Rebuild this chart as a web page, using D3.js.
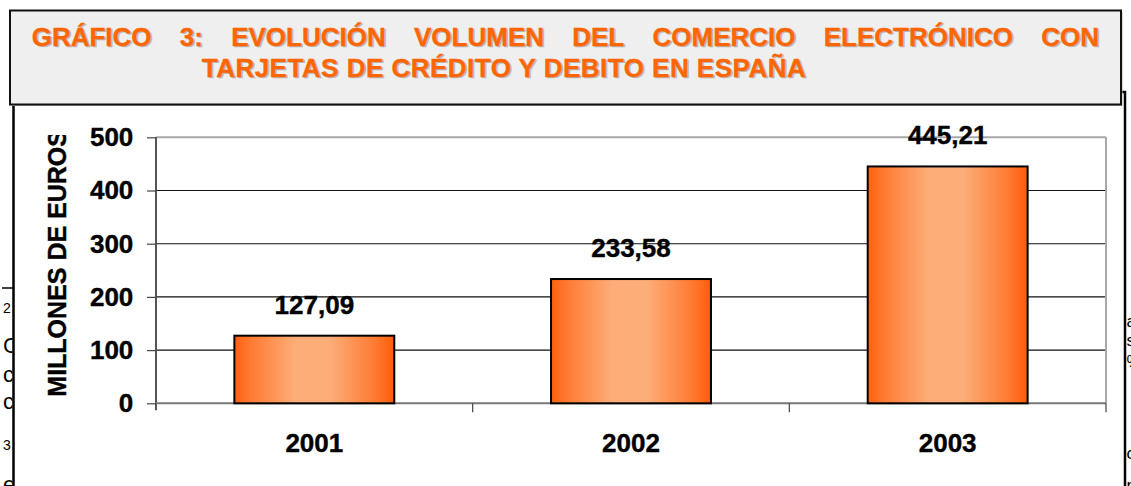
<!DOCTYPE html>
<html>
<head>
<meta charset="utf-8">
<script src="https://cdn.jsdelivr.net/npm/d3@7"></script>
<style>
  html, body { margin: 0; padding: 0; background: #fff; }
  svg { display: block; }
  text { font-family: "Liberation Sans", Arial, sans-serif; }
</style>
</head>
<body>
<svg id="chart" width="1131" height="486"></svg>
<script>
// ---- data ----
const years = ["2001", "2002", "2003"];
const volumes = [127.09, 233.58, 445.21];
const valueLabels = ["127,09", "233,58", "445,21"];
const yTicks = [0, 100, 200, 300, 400, 500];
const yTitle = "MILLONES DE EUROS";
const titleLine1 = ["GRÁFICO", "3:", "EVOLUCIÓN", "VOLUMEN", "DEL", "COMERCIO", "ELECTRÓNICO", "CON"];
const titleLine2 = "TARJETAS DE CRÉDITO Y DEBITO EN ESPAÑA";
// fragments of the underlying document page visible at the edges
const leftFragments = [
  {t: "2", s: 14, y: 313}, {t: "C", s: 22, y: 353}, {t: "c", s: 22, y: 382},
  {t: "c", s: 22, y: 409}, {t: "3", s: 14, y: 450}, {t: "e", s: 22, y: 492}
];
const rightFragments = [
  {t: "a", s: 17, y: 327}, {t: "s", s: 17, y: 346}, {t: "%", s: 17, y: 367},
  {t: "c", s: 17, y: 459}, {t: "r", s: 17, y: 491}
];

const svg = d3.select("#chart");
const defs = svg.append("defs");
const FONT = '"Liberation Sans", Arial, sans-serif';

// gradient for bars
const grad = defs.append("linearGradient").attr("id", "barGrad")
  .attr("x1", "0%").attr("x2", "100%").attr("y1", "0%").attr("y2", "0%");
[[0, "#ff6010"], [0.1, "#ff7a32"], [0.38, "#fcad78"], [0.6, "#fcad78"], [0.88, "#ff7a32"], [1, "#ff5c08"]]
  .forEach(([o, c]) => grad.append("stop").attr("offset", o).attr("stop-color", c));

defs.append("clipPath").attr("id", "clipLeft").append("rect")
  .attr("x", 0).attr("y", 0).attr("width", 12.5).attr("height", 486);
defs.append("clipPath").attr("id", "clipYTitle").append("rect")
  .attr("x", 0).attr("y", 135).attr("width", 120).attr("height", 351);

// ---- background document fragments ----
const leftG = svg.append("g").attr("clip-path", "url(#clipLeft)");
leftG.selectAll("text").data(leftFragments).join("text")
  .attr("x", 3).attr("y", d => d.y).attr("font-size", d => d.s)
  .attr("fill", "#000").text(d => d.t);
svg.append("line").attr("x1", 2).attr("x2", 13).attr("y1", 288).attr("y2", 288)
  .attr("stroke", "#000").attr("stroke-width", 1.5);
svg.selectAll("text.rf").data(rightFragments).join("text").attr("class", "rf")
  .attr("x", 1126.5).attr("y", d => d.y).attr("font-size", d => d.s)
  .attr("fill", "#000").text(d => d.t);

// ---- chart area ----
svg.append("rect").attr("x", 13.5).attr("y", 92).attr("width", 1111.5).attr("height", 420)
  .attr("fill", "#fff").attr("stroke", "#000").attr("stroke-width", 2.5);

// ---- scales ----
const plotL = 156, plotR = 1106, plotT = 137.3, plotB = 403.3;
const y = d3.scaleLinear().domain([0, 500]).range([plotB, plotT]);
const x = d3.scaleBand().domain(years).range([plotL, plotR])
  .paddingInner(0.495).paddingOuter(0.2475);
const step = x.step();

// gridlines
svg.append("g").selectAll("line").data(yTicks.filter(d => d > 0 && d < 500)).join("line")
  .attr("x1", plotL).attr("x2", plotR).attr("y1", d => y(d)).attr("y2", d => y(d))
  .attr("stroke", "#111").attr("stroke-width", 1.1);
// plot area top/right border (gray)
svg.append("line").attr("x1", plotL).attr("x2", plotR).attr("y1", y(500)).attr("y2", y(500))
  .attr("stroke", "#a8a8a8").attr("stroke-width", 2);
svg.append("line").attr("x1", plotR).attr("x2", plotR).attr("y1", y(500)).attr("y2", plotB)
  .attr("stroke", "#a8a8a8").attr("stroke-width", 2);

// y axis
const yAxis = svg.append("g").attr("transform", `translate(${plotL},0)`)
  .call(d3.axisLeft(y).tickValues(yTicks).tickSize(9).tickPadding(13.7).tickFormat(d3.format("d")));
yAxis.select(".domain").attr("stroke", "#555").attr("stroke-width", 2)
  .attr("d", `M0,${plotT}V${plotB + 7}`);
yAxis.selectAll(".tick line").attr("stroke", "#444").attr("stroke-width", 1.2);
yAxis.selectAll(".tick text").attr("font-size", 26).attr("font-weight", "bold")
  .attr("font-family", FONT).attr("fill", "#000").attr("stroke", "#000").attr("stroke-width", 0.4);

// x axis
const xAxis = svg.append("g").attr("transform", `translate(0,${plotB})`)
  .call(d3.axisBottom(x).tickSize(0).tickPadding(30));
xAxis.select(".domain").attr("stroke", "#777").attr("stroke-width", 2)
  .attr("d", `M${plotL},0H${plotR}`);
xAxis.selectAll(".tick text").attr("font-size", 26).attr("font-weight", "bold")
  .attr("font-family", FONT).attr("fill", "#000").attr("stroke", "#000").attr("stroke-width", 0.4);
// category boundary ticks
const bounds = years.map(d => x(d) - step * 0.2475).concat([plotR]);
xAxis.append("g").selectAll("line").data(bounds.slice(1)).join("line")
  .attr("x1", d => d).attr("x2", d => d).attr("y1", 0).attr("y2", 9)
  .attr("stroke", "#444").attr("stroke-width", 1.2);

// bars
const data = years.map((yr, i) => ({yr, v: volumes[i], lab: valueLabels[i]}));
svg.append("g").selectAll("rect").data(data).join("rect")
  .attr("x", d => x(d.yr)).attr("width", x.bandwidth())
  .attr("y", d => y(d.v)).attr("height", d => plotB - y(d.v))
  .attr("fill", "url(#barGrad)").attr("stroke", "#000").attr("stroke-width", 2);

// value labels
svg.append("g").selectAll("text").data(data).join("text")
  .attr("x", d => x(d.yr) + x.bandwidth() / 2).attr("y", d => y(d.v) - 22)
  .attr("text-anchor", "middle").attr("font-size", 26).attr("font-weight", "bold")
  .attr("fill", "#000").attr("stroke", "#000").attr("stroke-width", 0.4).text(d => d.lab);

// y axis title (clipped at top as in the original)
svg.append("g").attr("clip-path", "url(#clipYTitle)")
  .append("text").attr("transform", "translate(66,396.7) rotate(-90)")
  .attr("font-size", 25).attr("font-weight", "bold").attr("fill", "#000")
  .attr("stroke", "#000").attr("stroke-width", 0.4).text(yTitle);

// ---- title box ----
svg.append("rect").attr("x", 11.5).attr("y", 12).attr("width", 1111).attr("height", 94)
  .attr("fill", "#b8b8b8");
svg.append("rect").attr("x", 10).attr("y", 10.5).attr("width", 1111).attr("height", 94)
  .attr("fill", "#efefef").attr("stroke", "#111").attr("stroke-width", 2);

const TS = 26;
function titleText(g, dx, dy, fill) {
  // line 1 justified between 31.7 and 1099
  const words = g.selectAll("text.w").data(titleLine1).join("text").attr("class", "w")
    .attr("font-size", TS).attr("font-weight", "bold").attr("fill", fill)
    .attr("stroke", fill).attr("stroke-width", 0.35).text(d => d);
  const widths = [];
  words.each(function() { widths.push(this.getComputedTextLength()); });
  const left = 31.7, right = 1099;
  const gap = (right - left - d3.sum(widths)) / (titleLine1.length - 1);
  let cx = left;
  words.each(function(d, i) {
    d3.select(this).attr("x", cx + dx).attr("y", 45.7 + dy);
    cx += widths[i] + gap;
  });
  g.append("text").attr("x", 201.7 + dx).attr("y", 76.7 + dy)
    .attr("font-size", TS).attr("font-weight", "bold").attr("fill", fill)
    .attr("stroke", fill).attr("stroke-width", 0.35)
    .attr("textLength", 604).attr("lengthAdjust", "spacing").text(titleLine2);
}
titleText(svg.append("g").attr("opacity", 0.55), 1.5, 1.5, "#8a8a8a");
titleText(svg.append("g"), 0, 0, "#ff6600");
</script>
</body>
</html>
